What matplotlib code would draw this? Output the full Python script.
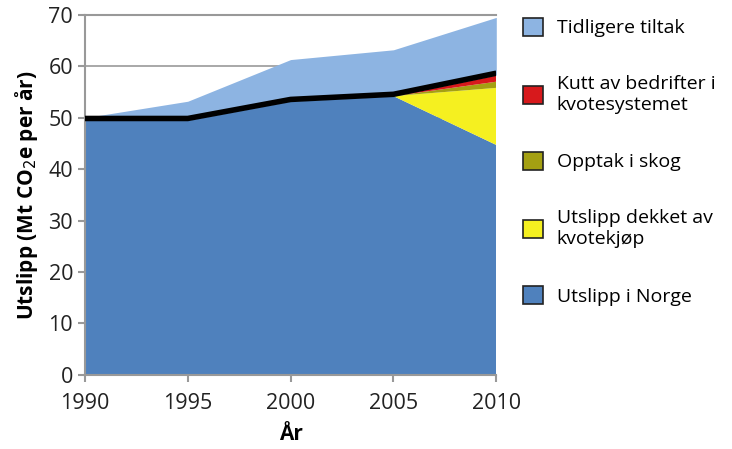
import matplotlib.pyplot as plt
import numpy as np
from matplotlib.patches import Patch

plt.rcParams['font.family'] = ['Open Sans', 'DejaVu Sans']

years = [1990, 1995, 2000, 2005, 2010]
utslipp_norge = [49.5, 49.5, 53.2, 54.2, 44.7]
kvotekjop = [0, 0, 0, 0, 11.1]
opptak_skog = [0, 0, 0, 0, 1.2]
kutt_bedrifter = [0, 0, 0, 0, 1.3]
tidligere_tiltak = [0.5, 3.7, 8.1, 9.0, 11.2]

c_norge = '#4f81bd'
c_kvote = '#f5f020'
c_skog = '#a4a012'
c_kutt = '#d7191c'
c_tidl = '#8db4e2'

fig = plt.figure(figsize=(7.32, 4.49), dpi=100)
ax = fig.add_axes([0.116, 0.165, 0.562, 0.802])

below = np.array(utslipp_norge) + np.array(kvotekjop) + np.array(opptak_skog) + np.array(kutt_bedrifter)
ax.stackplot(years, utslipp_norge, kvotekjop, opptak_skog, kutt_bedrifter,
             colors=[c_norge, c_kvote, c_skog, c_kutt], linewidth=0, zorder=2)
ax.fill_between(years, below, below + np.array(tidligere_tiltak), color=c_tidl, linewidth=0, zorder=2)
ax.plot(years, below + 0.35, color='black', lw=4, zorder=3, solid_capstyle='butt')

ax.set_xlim(1990, 2010)
ax.set_ylim(0, 70)
ax.set_xticks(years)
ax.set_yticks(range(0, 71, 10))
ax.yaxis.grid(True, color='#999999', lw=1.2, zorder=1)
ax.set_axisbelow(True)
ax.spines['right'].set_visible(False)
for s in ['left', 'bottom', 'top']:
    ax.spines[s].set_color('#999999')
    ax.spines[s].set_linewidth(1.5)
ax.tick_params(colors='#999999', width=1.5, length=5, labelcolor='#222222', labelsize=15.5)
ax.tick_params(axis='x', pad=8)

ax.set_xlabel('År', fontsize=15, fontweight='bold', labelpad=7)
ax.set_ylabel('Utslipp (Mt CO$_2$e per år)', fontsize=15, fontweight='bold', labelpad=6)

handles = [Patch(facecolor=c, edgecolor='#222222', lw=1.2) for c in [c_tidl, c_kutt, c_skog, c_kvote, c_norge]]
labels = ['Tidligere tiltak', 'Kutt av bedrifter i\nkvotesystemet', 'Opptak i skog',
          'Utslipp dekket av\nkvotekjøp', 'Utslipp i Norge']
fig.legend(handles, labels, loc='upper left', bbox_to_anchor=(0.69, 1.0), frameon=False,
           fontsize=14, handlelength=1.05, handleheight=1.05, labelspacing=1.95, handletextpad=0.7)

fig.savefig('out.png', dpi=100)
